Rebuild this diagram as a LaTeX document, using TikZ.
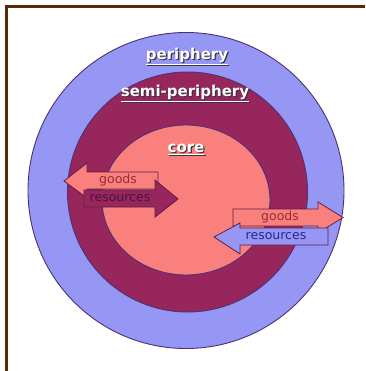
\documentclass[tikz,border=0pt]{standalone}
\usepackage{fontspec}
\setmainfont{DejaVu Sans}
\definecolor{frame}{RGB}{92,40,5}
\definecolor{perif}{RGB}{150,150,245}
\definecolor{semi}{RGB}{150,38,92}
\definecolor{coreclr}{RGB}{250,128,125}
\definecolor{ring}{RGB}{75,50,115}
\definecolor{arrline}{RGB}{95,30,70}
\definecolor{shade}{RGB}{55,55,60}
\definecolor{goodstxt}{RGB}{150,45,55}
\definecolor{restxtA}{RGB}{75,20,60}
\definecolor{restxtB}{RGB}{40,40,140}
\tikzset{
  zone/.style={draw=ring, line width=0.9pt},
  flow/.style={draw=arrline, line width=0.8pt, line join=miter},
  title/.style={font=\fontsize{15}{15}\selectfont\bfseries, inner sep=0pt, text=white},
  titleshadow/.style={font=\fontsize{15}{15}\selectfont\bfseries, inner sep=0pt, text=shade},
  flowtxt/.style={font=\fontsize{12.5}{12.5}\selectfont, inner sep=0pt}
}
\begin{document}
\begin{tikzpicture}[x=1pt,y=-1pt]
\useasboundingbox (0,0) rectangle (365,371);
\fill[white] (0,0) rectangle (365,371);

% frame along the top and left edges
\coordinate (ftl) at (6.5,7);
\coordinate (ftr) at (365,7);
\coordinate (fbl) at (6.5,371);
\draw[frame, line width=3pt] (fbl) -- (ftl) -- (ftr);

% concentric zones
\draw[zone, fill=perif] (186,190.5) circle[radius=158];
\draw[zone, fill=semi] (187.5,192) circle[radius=120];
\draw[zone, fill=coreclr] (186,200) ellipse[x radius=84, y radius=75];

% left pair: goods leave the core, resources flow in
\draw[flow, fill=coreclr]
  (158,172) -- (87,172) -- (87,163) -- (64,181) -- (87,198) -- (87,189) -- (158,189) -- cycle;
\draw[flow, fill=semi]
  (84,190) -- (155,190) -- (155,180) -- (178,199) -- (155,217) -- (155,207) -- (84,207) -- cycle;
\node[flowtxt, text=goodstxt] (gl) at (118,180) {goods};
\node[flowtxt, text=restxtA] (rl) at (120,198) {resources};

% right pair: goods reach the periphery, resources return
\draw[flow, fill=coreclr]
  (233,209) -- (318,209) -- (318,202) -- (343,217.5) -- (318,233) -- (318,226) -- (233,226) -- cycle;
\draw[flow, fill=perif]
  (328,228) -- (240,228) -- (240,223) -- (214,237) -- (240,254) -- (240,245) -- (328,245) -- cycle;
\node[flowtxt, text=goodstxt] (gr) at (280,217.5) {goods};
\node[flowtxt, text=restxtB] (rr) at (276,236) {resources};

% zone titles, white with a dark drop shadow
\node[titleshadow] (ps) at (188.2,57.2) {\underline{periphery}};
\node[title] (p) at (187,56) {\underline{periphery}};
\node[titleshadow] (ss) at (186.2,94.2) {\underline{semi-periphery}};
\node[title] (s) at (185,93) {\underline{semi-periphery}};
\node[titleshadow] (cs) at (187.2,150.2) {\underline{core}};
\node[title] (c) at (186,149) {\underline{core}};
\end{tikzpicture}
\end{document}
